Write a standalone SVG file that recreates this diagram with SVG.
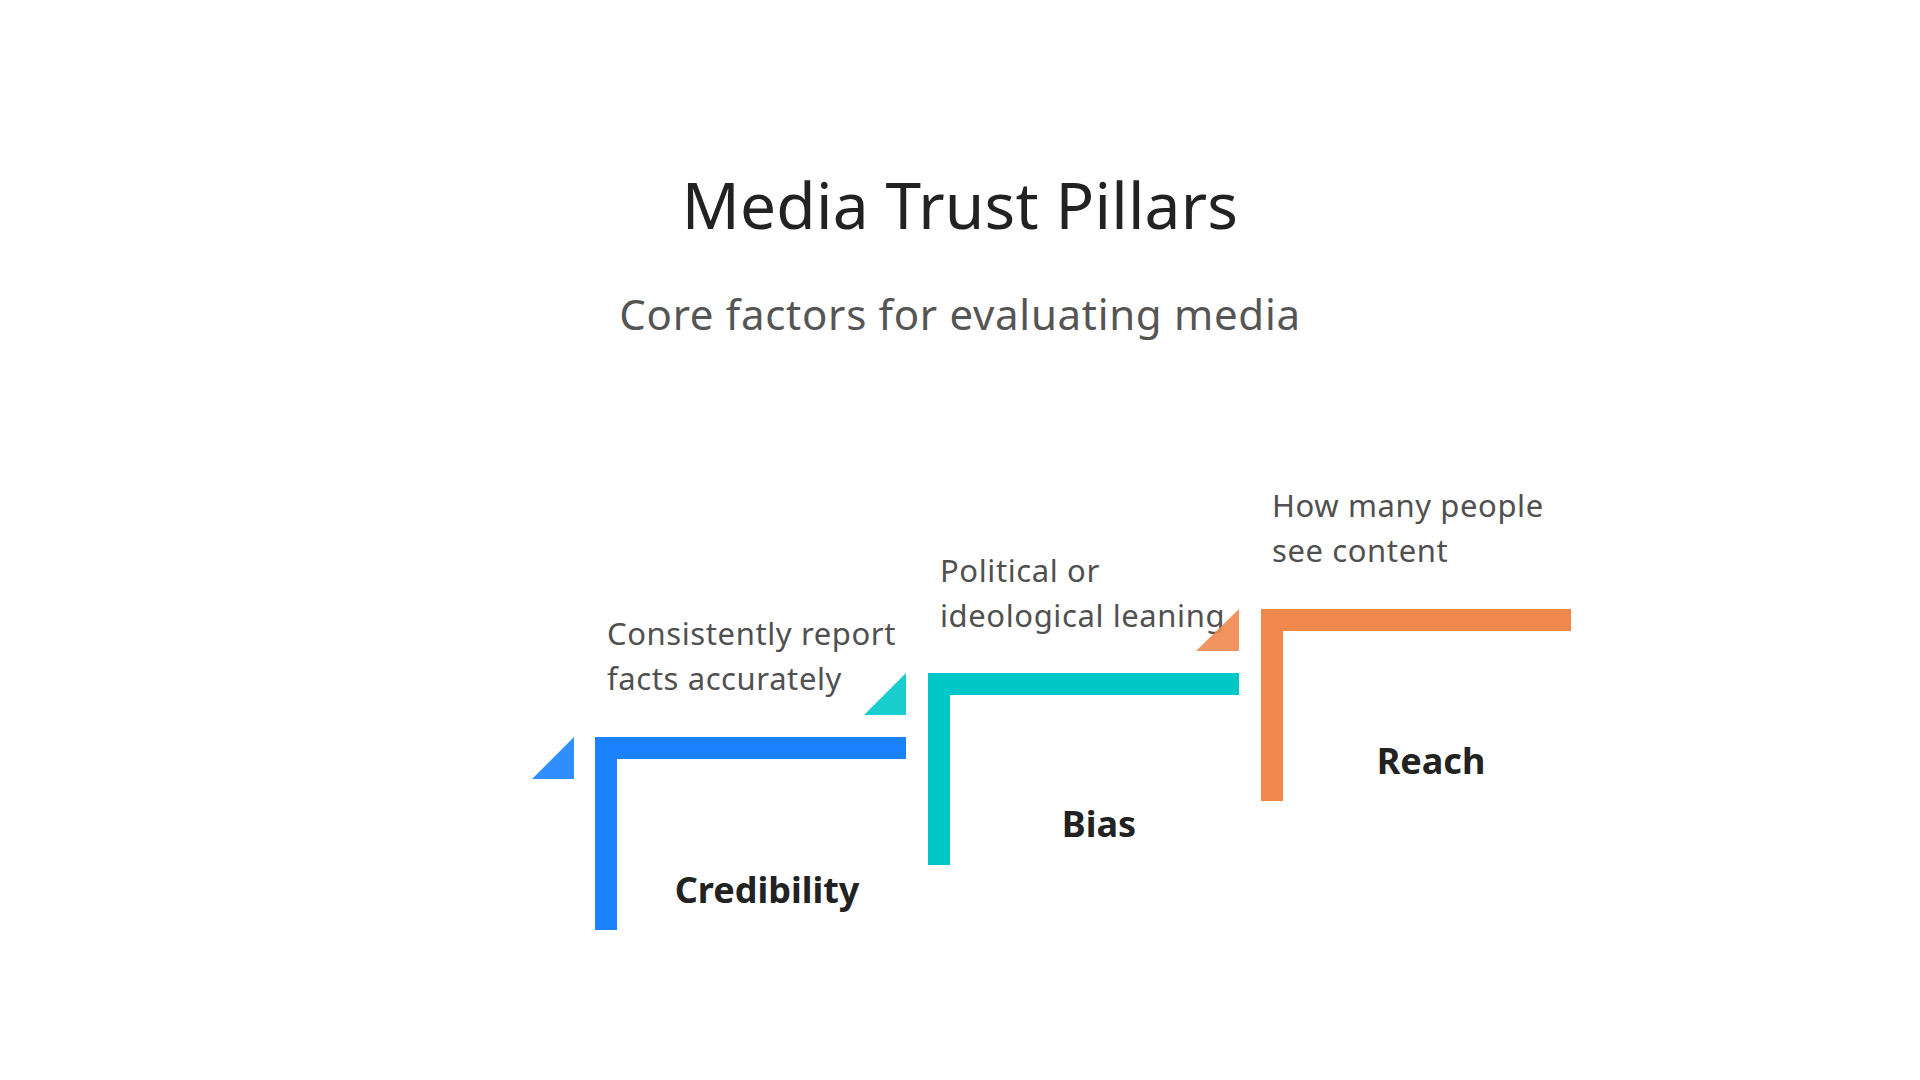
<svg xmlns="http://www.w3.org/2000/svg" width="1920" height="1080" viewBox="0 0 1920 1080">
  <style>
    .title { font-family: "Noto Sans", "Open Sans", sans-serif; font-size: 64px; fill: #222222; letter-spacing: 0.2px; }
    .subtitle { font-family: "Noto Sans", "Open Sans", sans-serif; font-size: 42px; fill: #555555; letter-spacing: 0.7px; }
    .desc { font-family: "Noto Sans", "Open Sans", sans-serif; font-size: 31px; fill: #505050; letter-spacing: 0.6px; }
    .label { font-family: "Noto Sans", "Open Sans", sans-serif; font-size: 36px; font-weight: bold; fill: #222222; }
    .tri { opacity: 0.9; }
  </style>
  <rect x="0" y="0" width="1920" height="1080" fill="#ffffff"/>
  <text class="title" x="960" y="229" text-anchor="middle">Media Trust Pillars</text>
  <text class="subtitle" x="960" y="330" text-anchor="middle">Core factors for evaluating media</text>

  <g id="connectors"></g>

  <g id="node-credibility">
    <polygon class="tri" points="574,737 574,779 532,779" fill="#1a82ff"/>
    <path d="M595,737 H906 V759 H617 V930 H595 Z" fill="#1a82ff"/>
    <text class="desc" x="607" y="645">Consistently report</text>
    <text class="desc" x="607" y="690">facts accurately</text>
    <text class="label" x="767" y="903" text-anchor="middle">Credibility</text>
  </g>

  <g id="node-bias">
    <polygon class="tri" points="906,673 906,715 864,715" fill="#00c8c8"/>
    <path d="M928,673 H1239 V695 H950 V865 H928 Z" fill="#00c8c8"/>
    <text class="desc" x="940" y="582">Political or</text>
    <text class="desc" x="940" y="627">ideological leaning</text>
    <text class="label" x="1099" y="837" text-anchor="middle">Bias</text>
  </g>

  <g id="node-reach">
    <polygon class="tri" points="1239,609 1239,651 1196,651" fill="#f0884e"/>
    <path d="M1261,609 H1571 V631 H1283 V801 H1261 Z" fill="#f0884e"/>
    <text class="desc" x="1272" y="517">How many people</text>
    <text class="desc" x="1272" y="562">see content</text>
    <text class="label" x="1431" y="774" text-anchor="middle">Reach</text>
  </g>
</svg>
